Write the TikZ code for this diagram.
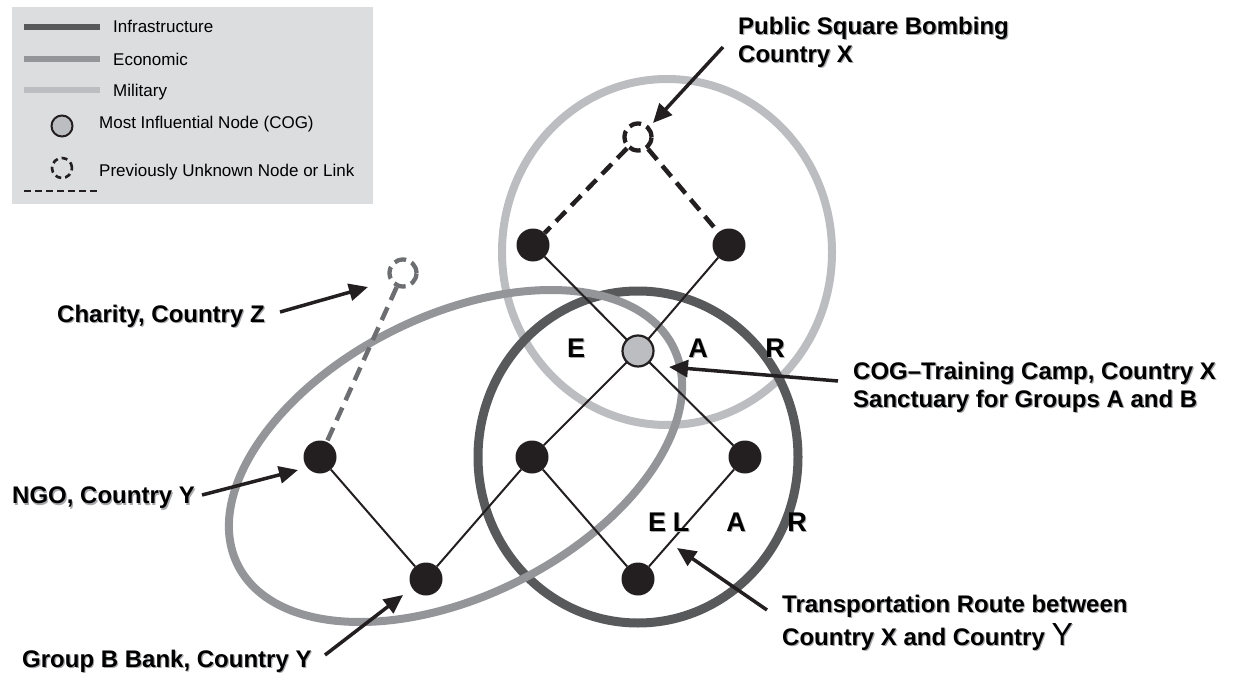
\documentclass[tikz,border=0pt]{standalone}
\usepackage{fontspec}
\setmainfont{Liberation Sans}
\usetikzlibrary{arrows.meta}
\definecolor{infra}{HTML}{58595B}
\definecolor{econ}{HTML}{939598}
\definecolor{mil}{HTML}{BCBDC0}
\definecolor{ink}{HTML}{231F20}
\definecolor{legbg}{HTML}{DCDDDF}
\definecolor{econdash}{HTML}{6D6E71}
\definecolor{shadowc}{HTML}{A7A9AC}
\newcommand\shd[1]{\leavevmode\rlap{\hspace{1.2pt}\raisebox{-1.2pt}{\textcolor{shadowc}{#1}}}#1}
\tikzset{
  dot/.style={circle, fill=ink, inner sep=0pt, minimum size=33pt},
  cognode/.style={circle, draw=ink, line width=2.2pt, fill=mil, inner sep=0pt, minimum size=31pt},
  unknode/.style={circle, draw=#1, line width=4.3pt, dash pattern=on 12pt off 6pt, inner sep=0pt, minimum size=27pt},
  link/.style={draw=ink, line width=2pt},
  dlink/.style={draw=#1, line width=4.5pt, dash pattern=on 14pt off 8pt},
  callout/.style={draw=ink, line width=3.5pt, -{Triangle[length=19pt,width=17pt]}},
  lab/.style={font=\fontsize{24}{28}\selectfont\bfseries, align=left, inner sep=0pt, anchor=north west},
  bigletter/.style={font=\fontsize{27}{27}\selectfont\bfseries, inner sep=0pt},
  legtext/.style={font=\fontsize{17}{20}\selectfont, inner sep=0pt, anchor=base west},
  legline/.style={line width=5.5pt},
}
\begin{document}
\begin{tikzpicture}[x=1pt,y=-1pt]
\useasboundingbox (0,0) rectangle (1237,674);

% ---------- legend ----------
\fill[legbg] (12,7) rectangle (373,204);
\coordinate (li1) at (24,27);   \coordinate (li2) at (100,27);
\coordinate (le1) at (24,59);   \coordinate (le2) at (100,59);
\coordinate (lm1) at (24,90);   \coordinate (lm2) at (100,90);
\coordinate (ld1) at (24,191);  \coordinate (ld2) at (100,191);
\draw[legline, infra] (li1) -- (li2);
\draw[legline, econ] (le1) -- (le2);
\draw[legline, mil] (lm1) -- (lm2);
\draw[ink, line width=2.8pt, dash pattern=on 7pt off 4pt] (ld1) -- (ld2);
\node[circle, draw=ink, line width=2pt, fill=mil, inner sep=0pt, minimum size=21pt] (lcog) at (62,126) {};
\node[circle, draw=ink, line width=2.6pt, dash pattern=on 6pt off 4pt, inner sep=0pt, minimum size=20pt] (lunk) at (62,168) {};
\node[legtext] (tinf) at (113,32.3) {Infrastructure};
\node[legtext] (teco) at (113,65.7) {Economic};
\node[legtext] (tmil) at (113,96.3) {Military};
\node[legtext] (tcog) at (99,128.3) {Most Influential Node (COG)};
\node[legtext] (tunk) at (99,176.7) {Previously Unknown Node or Link};

% ---------- domain rings ----------
\draw[mil, line width=8pt] (667,252) ellipse [x radius=165pt, y radius=173pt];
\draw[infra, line width=9pt] (638,457) ellipse [x radius=160pt, y radius=166pt];
\draw[econ, line width=8pt, rotate around={26.6:(455.5,456)}] (455.5,456) ellipse [x radius=243.5pt, y radius=140pt];

% ---------- network nodes ----------
\node[dot] (tl) at (533,245) {};
\node[dot] (tr) at (729,245) {};
\node[dot] (ngo) at (320,457) {};
\node[dot] (ml) at (532,457) {};
\node[dot] (rt) at (745,457) {};
\node[dot] (bl) at (426,579) {};
\node[dot] (br) at (638,579) {};
\node[unknode=ink] (pub) at (638,137) {};
\node[unknode=econdash] (cha) at (403,273) {};

% ---------- links ----------
\draw[dlink=ink] (pub) -- (tl);
\draw[dlink=ink] (pub) -- (tr);
\draw[dlink=econdash] (cha) -- (ngo);
\coordinate (cogc) at (638,351);
\draw[link] (tl) -- (cogc) -- (rt);
\draw[link] (tr) -- (cogc) -- (ml);
\draw[link] (ml) -- (br);
\draw[link] (rt) -- (br);
\draw[link] (ngo) -- (bl);
\draw[link] (bl) -- (ml);
\node[cognode] (cog) at (cogc) {};

% ---------- letters ----------
\node[bigletter] (e1) at (576,349) {\shd{E}};
\node[bigletter] (a1) at (698,349) {\shd{A}};
\node[bigletter] (r1) at (775,349) {\shd{R}};
\node[bigletter] (e2) at (657,523) {\shd{E}};
\node[bigletter] (l2) at (681,523) {\shd{L}};
\node[bigletter] (a2) at (736,523) {\shd{A}};
\node[bigletter] (r2) at (797,523) {\shd{R}};

% ---------- labels ----------
\node[lab] (lpub) at (738,17) {\shd{Public Square Bombing}\\\shd{Country X}};
\node[lab] (lcog2) at (853,362) {\shd{COG–Training Camp, Country X}\\\shd{Sanctuary for Groups A and B}};
\node[lab] (ltr) at (782,595) {\shd{Transportation Route between}\\[4pt]\shd{Country X and Country {\fontsize{32}{32}\selectfont\mdseries Y}}};
\node[lab] (lgrp) at (22,650) {\shd{Group B Bank, Country Y}};
\node[lab] (lcha) at (57,305) {\shd{Charity, Country Z}};
\node[lab] (lngo) at (12,487) {\shd{NGO, Country Y}};

% ---------- callout arrows ----------
\coordinate (apub1) at (723,47);  \coordinate (apub2) at (653,123);
\coordinate (acha1) at (280,312); \coordinate (acha2) at (368,287);
\coordinate (ango1) at (202,495); \coordinate (ango2) at (298,470);
\coordinate (agrp1) at (325,655); \coordinate (agrp2) at (403,595);
\coordinate (acog1) at (838,381); \coordinate (acog2) at (669,367);
\coordinate (atr1) at (767,610);  \coordinate (atr2) at (677,548);
\draw[callout] (apub1) -- (apub2);
\draw[callout] (acha1) -- (acha2);
\draw[callout] (ango1) -- (ango2);
\draw[callout] (agrp1) -- (agrp2);
\draw[callout] (acog1) -- (acog2);
\draw[callout] (atr1) -- (atr2);
\end{tikzpicture}
\end{document}
